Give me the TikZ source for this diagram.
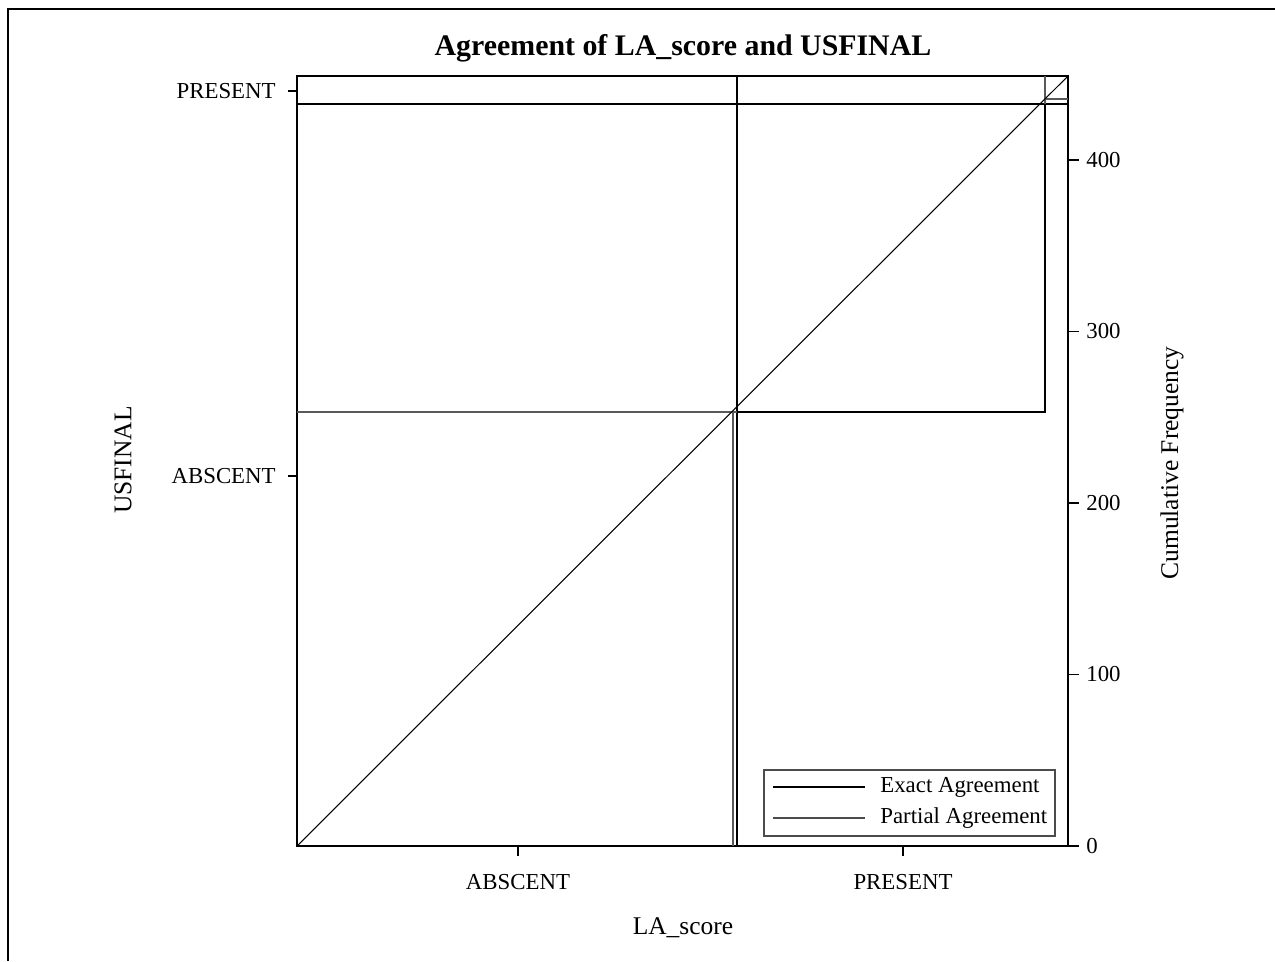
\documentclass[tikz,border=0pt]{standalone}
\usepackage{fontspec}
\setmainfont{Liberation Serif}
\begin{document}
\begin{tikzpicture}[x=0.02cm,y=-0.02cm,
  ln/.style={line width=0.75pt,black},
  lt/.style={line width=0.75pt,black!65},
  tick/.style={line width=0.75pt,black},
  ticklab/.style={font=\fontsize{13}{15}\selectfont,inner sep=0pt},
  axlab/.style={font=\fontsize{14.5}{17}\selectfont,inner sep=0pt},
  leglab/.style={font=\fontsize{13}{15}\selectfont,inner sep=0pt,anchor=west}]
\useasboundingbox (0,0) rectangle (1275,961);
% outer frame (left and top edges)
\draw[line width=0.8pt] (8,961) -- (8,9) -- (1275,9);
% title
\node[font=\bfseries\fontsize{17}{20}\selectfont,inner sep=0pt] (title) at (683,48) {Agreement of LA\_score and USFINAL};
% plot frame
\draw[ln] (297,76) rectangle (1068,846);
% cells
\draw[ln] (297,104) -- (1068,104);
\draw[ln] (737,76) -- (737,846);
\draw[lt] (297,412) -- (737,412);
\draw[ln] (737,412) -- (1045,412) -- (1045,104);
\draw[lt] (1045,104) -- (1045,76);
\draw[lt] (733,412) -- (733,846);
\draw[lt] (1045,99) -- (1068,99);
% diagonal
\draw[line width=0.6pt] (297,846) -- (1068,76);
% left axis ticks
\draw[tick] (288,91) -- (297,91);
\draw[tick] (288,476) -- (297,476);
\node[ticklab,anchor=east] (yp) at (276,91) {PRESENT};
\node[ticklab,anchor=east] (ya) at (276,476) {ABSCENT};
% bottom axis ticks
\draw[tick] (518,846) -- (518,856);
\draw[tick] (903,846) -- (903,856);
\node[ticklab] (xa) at (518,882) {ABSCENT};
\node[ticklab] (xp) at (903,882) {PRESENT};
% right axis ticks
\foreach \v/\yy in {0/846,100/674.5,200/503,300/331.5,400/160}{
  \draw[tick] (1068,\yy) -- (1079,\yy);
  \node[ticklab,anchor=west] (r\v) at (1086,\yy) {\v};
}
% axis labels
\node[axlab] (xlab) at (683,928) {LA\_score};
\node[axlab,rotate=90] (ylab) at (123,460) {USFINAL};
\node[axlab,rotate=90] (rlab) at (1172,463) {Cumulative Frequency};
% legend
\draw[line width=0.6pt,black!70] (764,770) rectangle (1055,836);
\draw[line width=0.6pt] (773,787) -- (865,787);
\draw[line width=0.6pt,black!70] (773,818) -- (865,818);
\node[leglab] (l1) at (880,787) {Exact Agreement};
\node[leglab] (l2) at (880,818) {Partial Agreement};
\end{tikzpicture}
\end{document}
